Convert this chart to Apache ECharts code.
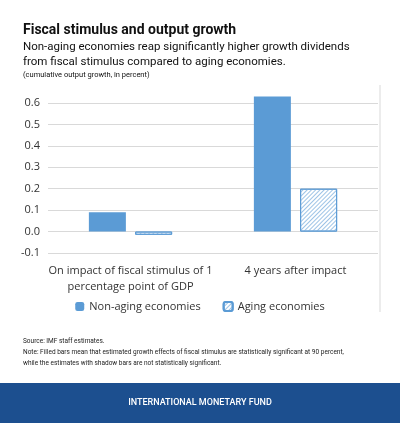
<!DOCTYPE html>
<html><head><meta charset="utf-8">
<script src="https://cdn.jsdelivr.net/npm/echarts@6/dist/echarts.min.js"></script>
<style>html,body{margin:0;padding:0;background:#fff}#main{width:400px;height:423px}</style>
</head><body><div id="main"></div>
<script>
var categories = ['On impact of fiscal stimulus of 1\npercentage point of GDP', '4 years after impact'];
var nonAging = [0.09, 0.63];
var aging = [-0.015, 0.2];
var yTicks = [-0.1, 0.6, 0.1];

var chart = echarts.init(document.getElementById('main'));
var font = 'Roboto, "Open Sans", sans-serif';
chart.setOption({
  animation: false,
  title: [
    { text: 'Fiscal stimulus and output growth', left: 18, top: 18,
      textStyle: { fontFamily: font, fontSize: 14, fontWeight: 'bold', color: '#111' } },
    { text: 'Non-aging economies reap significantly higher growth dividends\nfrom fiscal stimulus compared to aging economies.', left: 18, top: 35,
      textStyle: { fontFamily: font, fontSize: 11.5, fontWeight: 'normal', color: '#111', lineHeight: 15 } },
    { text: '(cumulative output growth, in percent)', left: 18, top: 66,
      textStyle: { fontFamily: font, fontSize: 7.5, fontWeight: 'normal', color: '#111' } },
    { text: 'Source: IMF staff estimates.\nNote: Filled bars mean that estimated growth effects of fiscal stimulus are statistically significant at 90 percent,\nwhile the estimates with shadow bars are not statistically significant.', left: 18, top: 331,
      textStyle: { fontFamily: font, fontSize: 6.5, fontWeight: 'normal', color: '#222', lineHeight: 11 } }
  ],
  grid: { left: 48, right: 22, top: 103, bottom: 170 },
  legend: {
    bottom: 106, left: 'center', itemWidth: 9, itemHeight: 9, itemGap: 22,
    textStyle: { fontFamily: '"Open Sans", sans-serif', fontSize: 11, color: '#333' },
    data: ['Non-aging economies', 'Aging economies']
  },
  xAxis: {
    type: 'category', data: categories,
    axisLine: { show: false }, axisTick: { show: false },
    axisLabel: { fontFamily: '"Open Sans", sans-serif', fontSize: 11, color: '#333', margin: 10, lineHeight: 16, interval: 0 }
  },
  yAxis: {
    type: 'value', min: yTicks[0], max: yTicks[1], interval: yTicks[2],
    axisLine: { show: false }, axisTick: { show: false },
    splitLine: { lineStyle: { color: '#d9d9d9' } },
    axisLabel: { fontFamily: '"Open Sans", sans-serif', fontSize: 11, color: '#333',
      formatter: function (v) { return v.toFixed(1); } }
  },
  series: [
    { name: 'Non-aging economies', type: 'bar', data: nonAging, barWidth: 37, barGap: '25%', clip: false,
      itemStyle: { color: '#5b9bd5' } },
    { name: 'Aging economies', type: 'bar', data: aging, barWidth: 37, clip: false,
      itemStyle: { color: '#ffffff', borderColor: '#5b9bd5', borderWidth: 1,
        decal: { symbol: 'rect', dashArrayX: [1, 0], dashArrayY: [1, 2], rotation: -Math.PI / 4, color: '#9dc3e6' } } }
  ],
  graphic: [
    { type: 'line', shape: { x1: 380, y1: 85, x2: 380, y2: 312 }, style: { stroke: '#d9d9d9', lineWidth: 1 } },
    { type: 'rect', shape: { x: 0, y: 383, width: 400, height: 40 }, style: { fill: '#1c4f8f' } },
    { type: 'text', left: 'center', top: 398,
      style: { text: 'INTERNATIONAL MONETARY FUND', fill: '#fff', font: '500 9px ' + font } }
  ]
});
</script></body></html>
